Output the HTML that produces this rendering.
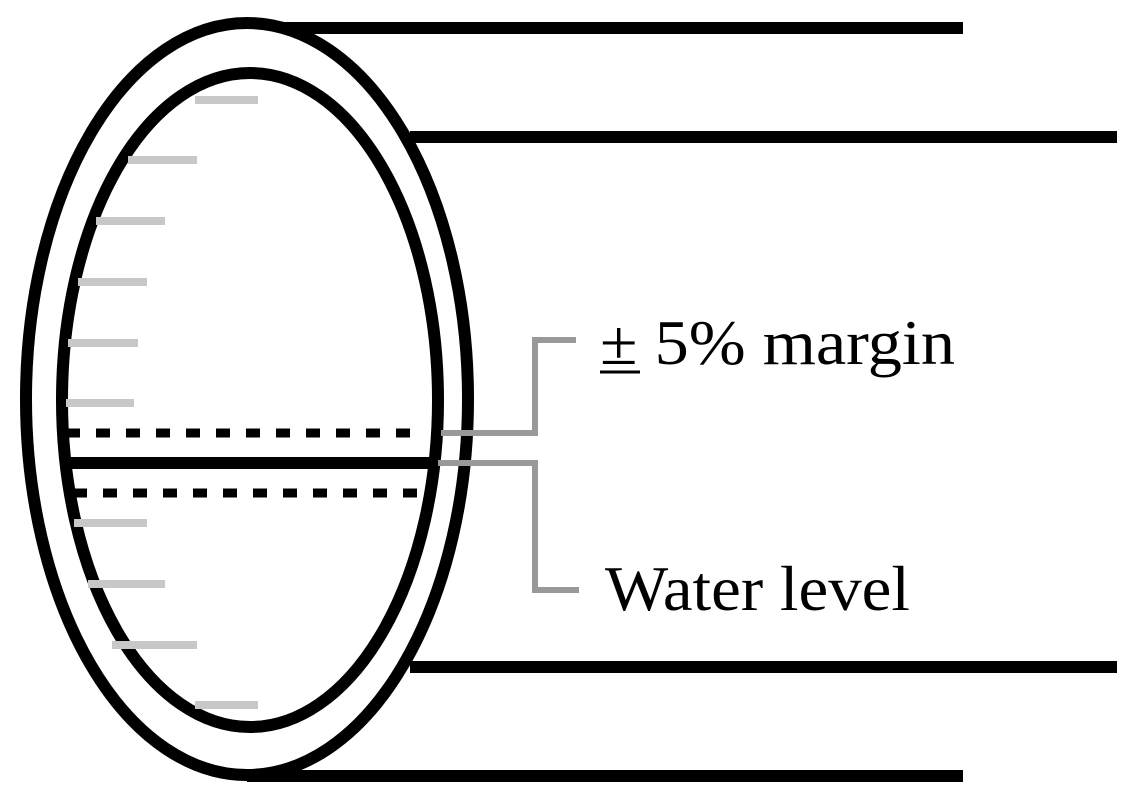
<!DOCTYPE html>
<html><head><meta charset="utf-8"><style>
html,body{margin:0;padding:0;background:#fff;}
svg{display:block;}
</style></head><body>
<svg width="1139" height="800" viewBox="0 0 1139 800" xmlns="http://www.w3.org/2000/svg">
<g stroke="#000" stroke-width="12">
<line x1="247" y1="28" x2="963" y2="28"/>
<line x1="410" y1="137" x2="1117" y2="137"/>
<line x1="410" y1="667" x2="1117" y2="667"/>
<line x1="247" y1="776" x2="963" y2="776"/>
</g>
<ellipse cx="247" cy="399" rx="221" ry="376" fill="#fff" stroke="#000" stroke-width="12"/>
<ellipse cx="250" cy="400" rx="188" ry="327" fill="#fff" stroke="#000" stroke-width="12"/>
<g stroke="#c8c8c8" stroke-width="8">
<line x1="195" y1="100" x2="258" y2="100"/>
<line x1="128" y1="160" x2="197" y2="160"/>
<line x1="96" y1="221" x2="165" y2="221"/>
<line x1="78" y1="282" x2="147" y2="282"/>
<line x1="68" y1="343" x2="138" y2="343"/>
<line x1="66" y1="403" x2="134" y2="403"/>
<line x1="74" y1="523" x2="147" y2="523"/>
<line x1="88" y1="584" x2="165" y2="584"/>
<line x1="112" y1="645" x2="197" y2="645"/>
<line x1="195" y1="705" x2="258" y2="705"/>
</g>
<line x1="66" y1="433" x2="412" y2="433" stroke="#000" stroke-width="9" stroke-dasharray="14 16"/>
<line x1="73" y1="493" x2="420" y2="493" stroke="#000" stroke-width="9" stroke-dasharray="14 16"/>
<line x1="64" y1="463" x2="436" y2="463" stroke="#000" stroke-width="12"/>
<g fill="none" stroke="#999" stroke-width="6">
<polyline points="441,433 535,433 535,340 576,340"/>
<polyline points="438,463 535,463 535,590 579,590"/>
</g>
<text x="600" y="364" font-family="Liberation Serif, serif" font-size="64" textLength="355" lengthAdjust="spacingAndGlyphs" fill="#000">± 5% margin</text>
<line x1="600" y1="372" x2="640" y2="372" stroke="#000" stroke-width="3"/>
<text x="605" y="610" font-family="Liberation Serif, serif" font-size="64" textLength="305" lengthAdjust="spacingAndGlyphs" fill="#000">Water level</text>
</svg>
</body></html>
